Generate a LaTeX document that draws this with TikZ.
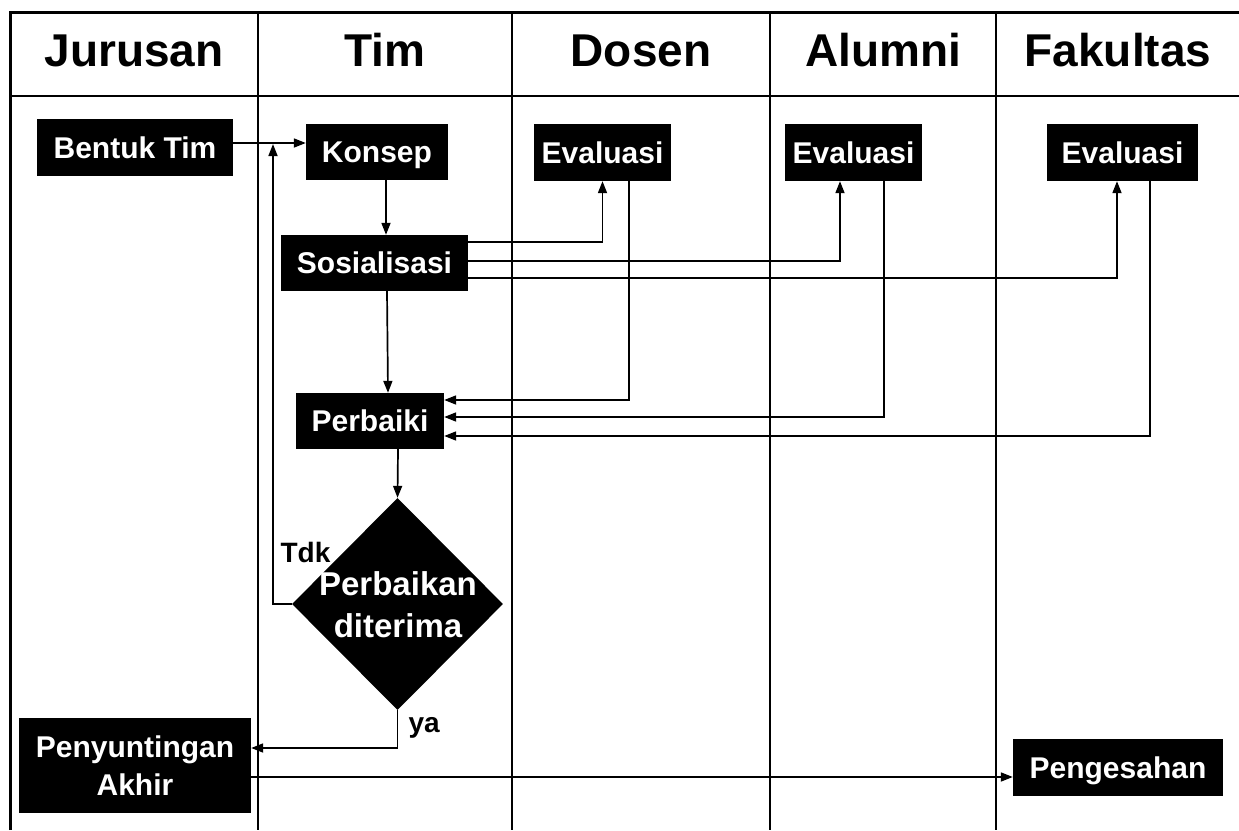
\documentclass[tikz,border=0pt]{standalone}
\usepackage{fontspec}
\setmainfont{Liberation Sans}
\usepackage{tikz}
\usetikzlibrary{shapes.geometric, arrows.meta, positioning, calc}

\tikzset{
  lajur/.style={font=\fontsize{46}{54}\selectfont\bfseries, anchor=base},
  kotak/.style={fill=black, text=white, font=\fontsize{30}{38}\selectfont\bfseries, inner sep=0pt, align=center},
  kotaksatu/.style={kotak, text height=21.5pt, text depth=0pt},
  keputusan/.style={diamond, fill=black, inner sep=0pt, minimum width=211pt, minimum height=212pt},
  ket/.style={font=\fontsize{28}{34}\selectfont\bfseries, anchor=base west},
  panah/.style={line width=1.7pt, -{Triangle[length=12pt, width=9pt]}},
  garis/.style={line width=1.6pt}
}

\begin{document}
\begin{tikzpicture}[x=1pt, y=-1pt]
  \useasboundingbox (0,0) rectangle (1239,830);

  % Swimlanes
  \draw[line width=3pt] (10,830) -- (10,12) -- (1239,12);
  \draw[garis] (10,96) -- (1239,96);
  \foreach \xl in {258, 512, 770, 996}
    \draw[garis] (\xl,12) -- (\xl,830);

  \node[lajur] (hjurusan) at (134,66) {Jurusan};
  \node[lajur] (htim) at (385,66) {Tim};
  \node[lajur] (hdosen) at (641,66) {Dosen};
  \node[lajur] (halumni) at (883,66) {Alumni};
  \node[lajur] (hfakultas) at (1118,66) {Fakultas};

  % Kegiatan
  \node[kotaksatu, minimum width=196pt, minimum height=57pt] (bentuk) at (135,147.5) {Bentuk Tim};
  \node[kotaksatu, minimum width=142pt, minimum height=56pt] (konsep) at (377,152) {Konsep};
  \node[kotaksatu, minimum width=137pt, minimum height=57pt] (evdosen) at (602.5,152.5) {Evaluasi};
  \node[kotaksatu, minimum width=137pt, minimum height=57pt] (evalumni) at (853.5,152.5) {Evaluasi};
  \node[kotaksatu, minimum width=151pt, minimum height=57pt] (evfakultas) at (1122.5,152.5) {Evaluasi};
  \node[kotaksatu, minimum width=187pt, minimum height=56pt] (sosial) at (374.5,263) {Sosialisasi};
  \node[kotaksatu, minimum width=148pt, minimum height=56pt] (perbaiki) at (370,421) {Perbaiki};
  \node[keputusan] (terima) at (397.5,604) {};
  \node[kotak, fill=none, font=\fontsize{33}{42}\selectfont\bfseries] (terimateks) at (398,605) {Perbaikan\\diterima};
  \node[kotak, minimum width=232pt, minimum height=95pt] (sunting) at (135,765.5) {Penyuntingan\\Akhir};
  \node[kotaksatu, minimum width=210pt, minimum height=57pt] (sah) at (1118,767.5) {Pengesahan};

  \node[ket] (tdk) at (277,562) {Tdk};
  \node[ket] (ya) at (405,732) {ya};
  \coordinate (balik) at (273,144);

  % Alur
  \draw[panah] ([yshift=4.5pt]bentuk.east) -- ([yshift=4.5pt]bentuk.east -| konsep.west);
  \draw[panah] ([xshift=9pt]konsep.south) -- ([xshift=9pt]konsep.south |- sosial.north);
  \draw[panah] ([yshift=21pt]sosial.east) -| (evdosen.south);
  \draw[panah] ([yshift=2pt]sosial.east) -| ([xshift=-13.5pt]evalumni.south);
  \draw[panah] ([yshift=-15pt]sosial.east) -| ([xshift=-5.5pt]evfakultas.south);
  \draw[panah] ([xshift=12.5pt]sosial.south) -- ([xshift=18pt]perbaiki.north);
  \draw[panah] ([xshift=26.5pt]evdosen.south) |- ([yshift=21pt]perbaiki.east);
  \draw[panah] ([xshift=30.5pt]evalumni.south) |- ([yshift=4pt]perbaiki.east);
  \draw[panah] ([xshift=27.5pt]evfakultas.south) |- ([yshift=-15pt]perbaiki.east);
  \draw[panah] ([xshift=28pt]perbaiki.south) -- (terima.north);
  \draw[panah] (terima.west) -| (balik);
  \draw[panah] (terima.south) |- ([yshift=17.5pt]sunting.east);
  \draw[panah] ([yshift=-11.5pt]sunting.east) -- ([yshift=-11.5pt]sunting.east -| sah.west);
\end{tikzpicture}
\end{document}
